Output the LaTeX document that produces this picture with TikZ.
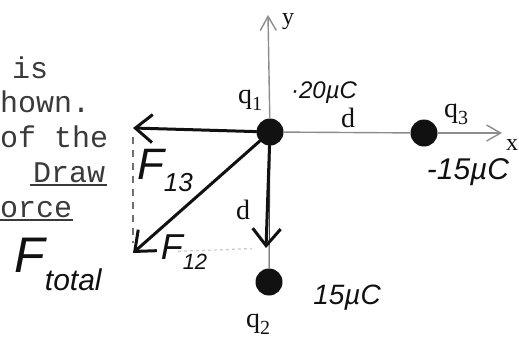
\documentclass[tikz,border=0pt]{standalone}
\usepackage{fontspec}
\setmainfont{Liberation Serif}
\setsansfont{Liberation Sans}
\setmonofont{Liberation Mono}
\usetikzlibrary{arrows.meta,positioning}
\definecolor{ink}{HTML}{111111}
\definecolor{typed}{HTML}{3A3A3A}
\definecolor{axis}{HTML}{8C8C8C}
\newcommand{\fs}[1]{\fontsize{#1}{#1}\selectfont}
\newcommand{\qlab}[1]{q\raisebox{-7pt}{\fs{20}#1}}
\tikzset{
  charge/.style={circle, fill=ink, inner sep=0pt, minimum size=27pt},
  axisline/.style={draw=axis, line width=1.4pt, -{Straight Barb[length=14pt,width=16pt,line width=1.4pt]}},
  force/.style={draw=ink, line width=3pt, line cap=round, line join=round, -{Straight Barb[length=17pt,width=28pt,line width=3pt]}},
  thin/.style={draw=ink!80, line width=1pt},
  help/.style={draw=ink!60, dash pattern=on 7pt off 6pt, line width=1.3pt},
  faint/.style={draw=axis!45, dashed, line width=1.2pt},
  mono/.style={text=typed, font=\ttfamily\fs{30}, anchor=base west, inner sep=0pt},
  uline/.style={draw=typed, line width=1.4pt},
  hand/.style={text=ink, font=\sffamily\itshape, inner sep=0pt},
  lab/.style={text=ink, font=\fs{28}, inner sep=0pt},
}
\begin{document}
\begin{tikzpicture}[x=1pt, y=-1pt]
\useasboundingbox (0,0) rectangle (519,338);

% charges
\node[charge] (q1) at (270,132) {};
\node[charge] (q3) at (424,133) {};
\node[charge] (q2) at (269,282) {};

\coordinate (ytop) at (268,15);
\coordinate (xend) at (502,133);
\coordinate (f13tip) at (133,128);
\coordinate (f12tip) at (133,253);
\coordinate (fdtip) at (266,248);

% axes
\draw[axisline] (q1) -- (ytop);
\draw[axis, line width=1.4pt] (q1) -- (q3);
\draw[axisline] (q3) -- (xend);
\draw[thin] (q1) -- (q2);

% force vectors
\draw[help, shorten <=9pt, shorten >=10pt] (f13tip) -- (f12tip);
\draw[faint, shorten <=45pt, shorten >=14pt] (f12tip) -- (fdtip);
\draw[force] (q1) -- (f13tip);
\draw[force] (q1) -- (f12tip);
\draw[force] (q1) -- (fdtip);

% charge and distance labels
\node[lab] (q1lab) at (250,100) {\qlab{1}};
\node[lab] (q3lab) at (456,114) {\qlab{3}};
\node[lab] (q2lab) at (258,324) {\qlab{2}};
\node[lab] (dx) at (348,118) {d};
\node[lab] (dy) at (243,210) {d};
\node[lab, font=\fs{24}] (ylab) at (288,22) {y};
\node[lab, font=\fs{24}] (xlab) at (512,145) {x};
\node[hand, font=\sffamily\itshape\fs{24}] (c1) at (324,93) {·20µC};
\node[hand, font=\sffamily\itshape\fs{30}] (c3) at (468,172) {-15µC};
\node[hand, font=\sffamily\itshape\fs{28}] (c2) at (347,298) {15µC};

% force labels
\node[hand] (f13lab) at (165,170) {\fs{44}F\raisebox{-12pt}{\fs{26}13}};
\node[hand] (f12lab) at (184,252) {\fs{36}F\raisebox{-10pt}{\fs{22}12}};
\node[hand] (ftotlab) at (58,264) {\fs{50}F\raisebox{-18pt}{\fs{30}total}};

% question text
\node[mono] (t1) at (12,78) {is};
\node[mono] (t2) at (0,112) {hown.};
\node[mono] (t3) at (0,147) {of the};
\node[mono] (t4) at (33,182) {Draw};
\node[mono] (t5) at (0,217) {orce};
\draw[uline] (30,185) -- (107,185);
\draw[uline] (0,220) -- (73,220);
\end{tikzpicture}
\end{document}
